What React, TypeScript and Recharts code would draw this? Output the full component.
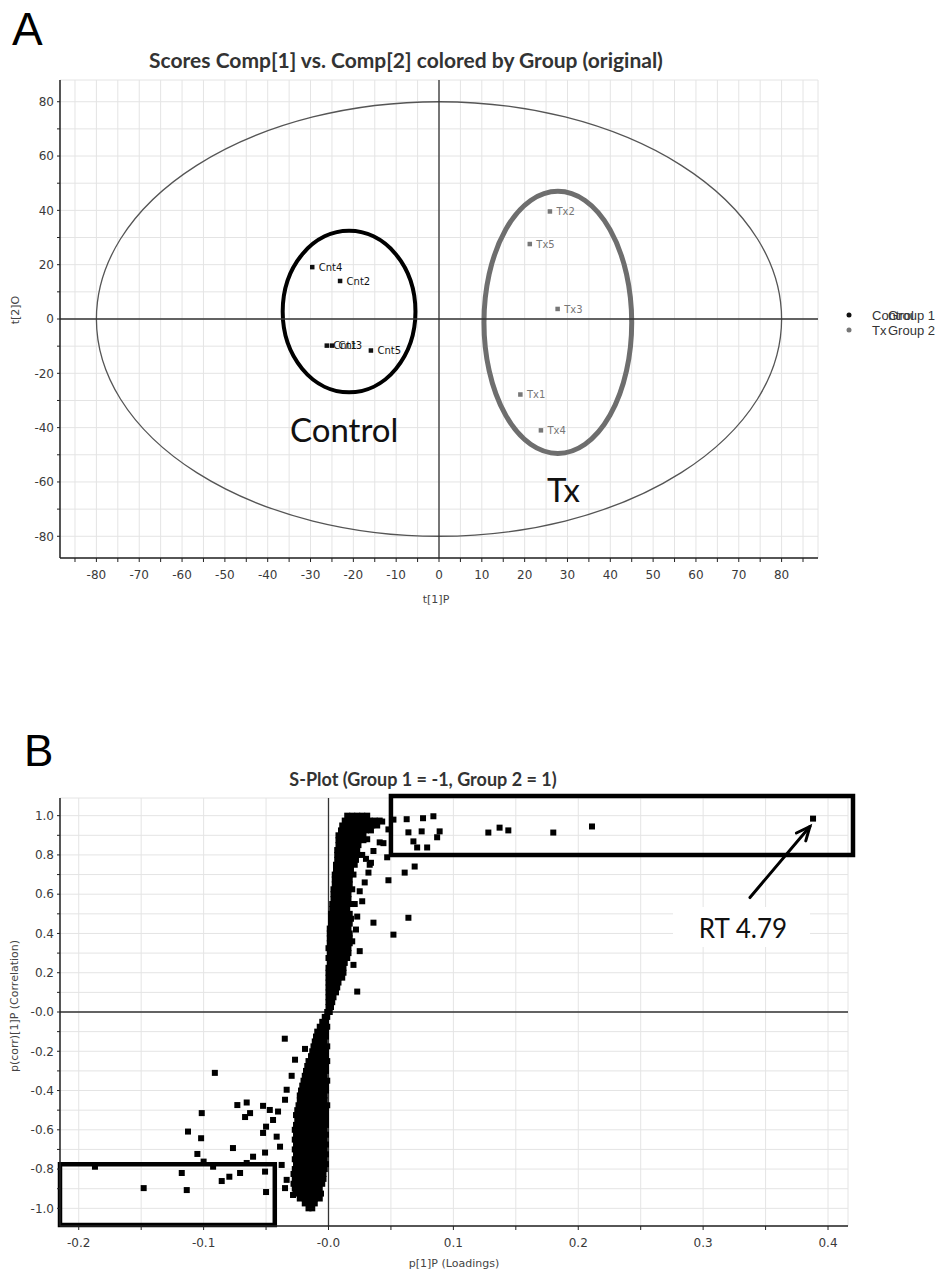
import React from 'react'
import {
    ScatterChart,
    Scatter,
    XAxis,
    YAxis,
    CartesianGrid,
    ReferenceLine,
    ReferenceArea,
    LabelList,
} from 'recharts'

// ---- Panel A: PCA scores ----
const controlNames = ['Cnt1', 'Cnt2', 'Cnt3', 'Cnt4', 'Cnt5']
const controlT1 = [-26.2, -23.1, -25.0, -29.6, -15.9]
const controlT2 = [-9.8, 14.0, -9.8, 19.1, -11.6]

const txNames = ['Tx1', 'Tx2', 'Tx3', 'Tx4', 'Tx5']
const txT1 = [19.0, 25.9, 27.7, 23.8, 21.2]
const txT2 = [-27.8, 39.6, 3.7, -41.0, 27.6]

const scoreXTicks = [-85, -80, -75, -70, -65, -60, -55, -50, -45, -40, -35, -30, -25, -20, -15, -10, -5, 0, 5, 10, 15, 20, 25, 30, 35, 40, 45, 50, 55, 60, 65, 70, 75, 80, 85]
const scoreYTicks = [-80, -70, -60, -50, -40, -30, -20, -10, 0, 10, 20, 30, 40, 50, 60, 70, 80]

const legendItems = [
    { name: 'Control', group: 'Group 1', color: '#111' },
    { name: 'Tx', group: 'Group 2', color: '#777' },
]

// ---- Panel B: S-plot ----
const loadTicks = [-0.2, -0.15, -0.1, -0.05, 0, 0.05, 0.1, 0.15, 0.2, 0.25, 0.3, 0.35, 0.4]
const corrTicks = [-1, -0.9, -0.8, -0.7, -0.6, -0.5, -0.4, -0.3, -0.2, -0.1, 0, 0.1, 0.2, 0.3, 0.4, 0.5, 0.6, 0.7, 0.8, 0.9, 1]

// dense S-band, one row per correlation level: [p(corr), loadings...]
const bandRows: [number, number[]][] = [
    [-1.0, [-0.016, -0.013]],
    [-0.975, [-0.019, -0.015, -0.011]],
    [-0.95, [-0.023, -0.019, -0.015, -0.011, -0.007]],
    [-0.925, [-0.026, -0.022, -0.018, -0.014, -0.01, -0.006]],
    [-0.9, [-0.027, -0.023, -0.019, -0.015, -0.011, -0.007]],
    [-0.875, [-0.028, -0.024, -0.02, -0.016, -0.012, -0.008, -0.005]],
    [-0.85, [-0.027, -0.023, -0.019, -0.015, -0.011, -0.007, -0.004]],
    [-0.825, [-0.028, -0.024, -0.02, -0.016, -0.012, -0.008, -0.004]],
    [-0.8, [-0.027, -0.023, -0.019, -0.015, -0.011, -0.007, -0.003]],
    [-0.775, [-0.026, -0.022, -0.018, -0.014, -0.01, -0.006, -0.002]],
    [-0.75, [-0.027, -0.023, -0.019, -0.015, -0.011, -0.007, -0.003]],
    [-0.725, [-0.026, -0.022, -0.018, -0.014, -0.01, -0.006, -0.002]],
    [-0.7, [-0.027, -0.023, -0.019, -0.015, -0.011, -0.007, -0.003]],
    [-0.675, [-0.026, -0.022, -0.018, -0.014, -0.01, -0.006, -0.002]],
    [-0.65, [-0.027, -0.023, -0.019, -0.015, -0.011, -0.007, -0.003]],
    [-0.625, [-0.026, -0.022, -0.018, -0.014, -0.01, -0.006, -0.002]],
    [-0.6, [-0.027, -0.023, -0.019, -0.015, -0.011, -0.007, -0.003]],
    [-0.575, [-0.026, -0.022, -0.018, -0.014, -0.01, -0.006, -0.002]],
    [-0.55, [-0.025, -0.021, -0.017, -0.013, -0.009, -0.005, -0.002]],
    [-0.525, [-0.026, -0.022, -0.018, -0.014, -0.01, -0.006, -0.002]],
    [-0.5, [-0.025, -0.021, -0.017, -0.013, -0.009, -0.005, -0.002]],
    [-0.475, [-0.024, -0.02, -0.016, -0.012, -0.008, -0.004, -0.001]],
    [-0.45, [-0.023, -0.019, -0.015, -0.011, -0.007, -0.003]],
    [-0.425, [-0.023, -0.019, -0.015, -0.011, -0.007, -0.003]],
    [-0.4, [-0.022, -0.018, -0.014, -0.01, -0.006, -0.002]],
    [-0.375, [-0.021, -0.017, -0.013, -0.009, -0.005, -0.002]],
    [-0.35, [-0.02, -0.016, -0.012, -0.008, -0.004, -0.001]],
    [-0.325, [-0.019, -0.015, -0.011, -0.007, -0.003]],
    [-0.3, [-0.018, -0.014, -0.01, -0.006, -0.002]],
    [-0.275, [-0.017, -0.013, -0.009, -0.005, -0.002]],
    [-0.25, [-0.016, -0.012, -0.008, -0.004, -0.001]],
    [-0.225, [-0.014, -0.01, -0.006, -0.002]],
    [-0.2, [-0.013, -0.009, -0.005, -0.002]],
    [-0.175, [-0.012, -0.008, -0.004, -0.001]],
    [-0.15, [-0.011, -0.007, -0.003]],
    [-0.125, [-0.01, -0.006, -0.002]],
    [-0.1, [-0.009, -0.005, -0.002]],
    [-0.075, [-0.007, -0.004, -0.001]],
    [-0.05, [-0.005, -0.002]],
    [-0.025, [-0.003, -0.001]],
    [0.0, [-0.001, 0.001]],
    [0.025, [0.0, 0.002]],
    [0.05, [0.0, 0.003]],
    [0.075, [0.0, 0.004]],
    [0.1, [0.0, 0.003, 0.006]],
    [0.125, [0.0, 0.004, 0.007]],
    [0.15, [0.0, 0.004, 0.008]],
    [0.175, [0.0, 0.004, 0.008, 0.011]],
    [0.2, [0.0, 0.004, 0.008, 0.012]],
    [0.225, [0.0, 0.004, 0.008, 0.012]],
    [0.25, [0.001, 0.005, 0.009, 0.013]],
    [0.275, [0.0, 0.004, 0.008, 0.012, 0.015]],
    [0.3, [0.001, 0.005, 0.009, 0.013, 0.016]],
    [0.325, [0.0, 0.004, 0.008, 0.012, 0.016]],
    [0.35, [0.001, 0.005, 0.009, 0.013, 0.017]],
    [0.375, [0.001, 0.005, 0.009, 0.013, 0.017]],
    [0.4, [0.001, 0.005, 0.009, 0.013, 0.017]],
    [0.425, [0.001, 0.005, 0.009, 0.013, 0.016]],
    [0.45, [0.002, 0.006, 0.01, 0.014, 0.017]],
    [0.475, [0.002, 0.006, 0.01, 0.014, 0.018]],
    [0.5, [0.002, 0.006, 0.01, 0.014, 0.017]],
    [0.525, [0.003, 0.007, 0.011, 0.015]],
    [0.55, [0.003, 0.007, 0.011, 0.015, 0.018]],
    [0.575, [0.004, 0.008, 0.012, 0.016]],
    [0.6, [0.004, 0.008, 0.012, 0.016]],
    [0.625, [0.004, 0.008, 0.012, 0.016, 0.019]],
    [0.65, [0.005, 0.009, 0.013, 0.017]],
    [0.675, [0.005, 0.009, 0.013, 0.017]],
    [0.7, [0.005, 0.009, 0.013, 0.017, 0.02]],
    [0.725, [0.006, 0.01, 0.014, 0.018]],
    [0.75, [0.006, 0.01, 0.014, 0.018, 0.021]],
    [0.775, [0.007, 0.011, 0.015, 0.019, 0.022]],
    [0.8, [0.007, 0.011, 0.015, 0.019, 0.023]],
    [0.825, [0.007, 0.011, 0.015, 0.019, 0.023]],
    [0.85, [0.008, 0.012, 0.016, 0.02, 0.024]],
    [0.875, [0.008, 0.012, 0.016, 0.02, 0.024, 0.028]],
    [0.9, [0.008, 0.012, 0.016, 0.02, 0.024, 0.028]],
    [0.925, [0.01, 0.014, 0.018, 0.022, 0.026, 0.03, 0.034]],
    [0.95, [0.011, 0.015, 0.019, 0.023, 0.027, 0.031, 0.035, 0.039]],
    [0.975, [0.013, 0.017, 0.021, 0.025, 0.029, 0.033, 0.037, 0.041]],
    [1.0, [0.015, 0.019, 0.023, 0.027, 0.031]],
]

// scattered variables off the band: [loading, p(corr)]
const positiveTail: [number, number][] = [
    [0.0626, 0.982], [0.0757, 0.987], [0.084, 0.997], [0.064, 0.915], [0.0746, 0.92],
    [0.089, 0.92], [0.068, 0.869], [0.079, 0.838], [0.087, 0.89], [0.071, 0.838],
    [0.069, 0.741], [0.061, 0.71], [0.064, 0.48], [0.052, 0.394], [0.048, 0.671],
    [0.036, 0.455], [0.023, 0.104], [0.032, 0.71], [0.033, 0.75], [0.027, 0.564],
    [0.025, 0.615], [0.025, 0.31], [0.023, 0.486], [0.047, 0.788], [0.052, 0.98],
    [0.041, 0.864], [0.031, 0.88], [0.036, 0.82], [0.044, 0.86], [0.048, 0.93],
    [0.043, 0.97], [0.034, 0.76], [0.029, 0.66], [0.021, 0.55], [0.022, 0.42],
    [0.019, 0.36], [0.02, 0.24], [0.03, 0.78], [0.027, 0.8],
    [0.128, 0.914], [0.137, 0.939], [0.144, 0.925], [0.18, 0.914], [0.211, 0.945],
    [0.388, 0.985],
]

const negativeTail: [number, number][] = [
    [-0.035, -0.136], [-0.091, -0.31], [-0.1015, -0.515], [-0.073, -0.474], [-0.0655, -0.461],
    [-0.0628, -0.515], [-0.0668, -0.535], [-0.1125, -0.609], [-0.102, -0.643], [-0.105, -0.723],
    [-0.0765, -0.693], [-0.1, -0.762], [-0.1175, -0.82], [-0.148, -0.897], [-0.1135, -0.907],
    [-0.0855, -0.861], [-0.0794, -0.839], [-0.0708, -0.82], [-0.0508, -0.813], [-0.05, -0.917],
    [-0.187, -0.788], [-0.0508, -0.716], [-0.0524, -0.478], [-0.047, -0.499], [-0.05, -0.584],
    [-0.0524, -0.616], [-0.0604, -0.737], [-0.0655, -0.769], [-0.0924, -0.788], [-0.0268, -0.243],
    [-0.0188, -0.188], [-0.0295, -0.325], [-0.0404, -0.507], [-0.0444, -0.55], [-0.0415, -0.635],
    [-0.0388, -0.686], [-0.0375, -0.779], [-0.0335, -0.855], [-0.0348, -0.897], [-0.0284, -0.932],
    [-0.0335, -0.396], [-0.0348, -0.447],
]

const controlData = controlNames.map((name, i) => ({ name, x: controlT1[i], y: controlT2[i] }))
const txData = txNames.map((name, i) => ({ name, x: txT1[i], y: txT2[i] }))

const sPlotData = [
    ...bandRows.flatMap(([y, xs]) => xs.map((x) => ({ x, y }))),
    ...positiveTail.map(([x, y]) => ({ x, y })),
    ...negativeTail.map(([x, y]) => ({ x, y })),
]

const tickStyle = { fontSize: 12, fill: '#3a3a3a', fontFamily: 'DejaVu Sans' }
const axisLine = { stroke: '#222', strokeWidth: 1.5 }
const gridColor = '#e4e4e4'

const fmtScoreX = (v: number) => (v % 10 === 0 ? String(v) : '')
const fmtScoreY = (v: number) => (v % 20 === 0 ? String(v) : '')
const fmtLoad = (v: number) => {
    const r = Math.round(v * 100)
    if (r % 10 !== 0) return ''
    return r === 0 ? '-0.0' : (r / 100).toFixed(1)
}
const fmtCorr = (v: number) => {
    const r = Math.round(v * 10)
    if (r % 2 !== 0) return ''
    return r === 0 ? '-0.0' : (r / 10).toFixed(1)
}

// small square marker of fixed pixel size
const squareMarker = (side: number, fill: string) => (props: any) => (
    <rect x={props.cx - side / 2} y={props.cy - side / 2} width={side} height={side} fill={fill} />
)

// ellipse inscribed in a ReferenceArea rectangle
const ellipseShape = (stroke: string, strokeWidth: number) => (props: any) => {
    const { x, y, width, height } = props
    return (
        <ellipse
            cx={x + width / 2}
            cy={y + height / 2}
            rx={Math.abs(width) / 2}
            ry={Math.abs(height) / 2}
            fill="none"
            stroke={stroke}
            strokeWidth={strokeWidth}
        />
    )
}

const arrowShape = (props: any) => {
    const { x1, y1, x2, y2 } = props
    const a = Math.atan2(y2 - y1, x2 - x1)
    const len = 15
    const spread = 0.42
    const h1 = `${x2 - len * Math.cos(a - spread)},${y2 - len * Math.sin(a - spread)}`
    const h2 = `${x2 - len * Math.cos(a + spread)},${y2 - len * Math.sin(a + spread)}`
    return (
        <g stroke="#000" strokeWidth={3} fill="none" strokeLinecap="round">
            <line x1={x1} y1={y1} x2={x2} y2={y2} />
            <polyline points={`${h1} ${x2},${y2} ${h2}`} />
        </g>
    )
}

const ScoresChart = () => (
    <ScatterChart width={950} height={620} margin={{ top: 80, right: 132, bottom: 32, left: 20 }}>
        <CartesianGrid stroke={gridColor} />
        <XAxis
            type="number"
            dataKey="x"
            domain={[-88.5, 88.5]}
            ticks={scoreXTicks}
            interval={0}
            tickFormatter={fmtScoreX}
            tick={tickStyle}
            tickSize={4}
            tickMargin={8}
            axisLine={axisLine}
            tickLine={{ stroke: '#222' }}
            height={30}
            allowDataOverflow
        />
        <YAxis
            type="number"
            dataKey="y"
            domain={[-88, 88]}
            ticks={scoreYTicks}
            interval={0}
            tickFormatter={fmtScoreY}
            tick={tickStyle}
            tickSize={3}
            tickMargin={3}
            axisLine={axisLine}
            tickLine={{ stroke: '#222' }}
            width={40}
            allowDataOverflow
        />
        <ReferenceLine x={0} stroke="#333" strokeWidth={1.3} />
        <ReferenceLine y={0} stroke="#333" strokeWidth={1.3} />
        <ReferenceArea x1={-80} x2={80} y1={-80} y2={80} ifOverflow="visible" shape={ellipseShape('#555', 1.3)} />
        <ReferenceArea x1={-36.5} x2={-5.5} y1={-27} y2={32.5} ifOverflow="visible" shape={ellipseShape('#000', 4)} />
        <ReferenceArea x1={10.5} x2={45} y1={-49.5} y2={47} ifOverflow="visible" shape={ellipseShape('#6e6e6e', 5)} />
        <Scatter name="Control" data={controlData} fill="#111" shape={squareMarker(4.5, '#111')} isAnimationActive={false}>
            <LabelList dataKey="name" position="right" offset={2} style={{ fontSize: 10, fill: '#111', fontFamily: 'DejaVu Sans' }} />
        </Scatter>
        <Scatter name="Tx" data={txData} fill="#777" shape={squareMarker(4.5, '#777')} isAnimationActive={false}>
            <LabelList dataKey="name" position="right" offset={2} style={{ fontSize: 10, fill: '#777', fontFamily: 'DejaVu Sans' }} />
        </Scatter>
    </ScatterChart>
)

const SPlotChart = () => (
    <ScatterChart width={950} height={552} margin={{ top: 78, right: 102, bottom: 16, left: 20 }}>
        <CartesianGrid stroke={gridColor} />
        <XAxis
            type="number"
            dataKey="x"
            domain={[-0.215, 0.416]}
            ticks={loadTicks}
            interval={0}
            tickFormatter={fmtLoad}
            tick={tickStyle}
            tickSize={4}
            tickMargin={8}
            axisLine={axisLine}
            tickLine={{ stroke: '#222' }}
            height={30}
            allowDataOverflow
        />
        <YAxis
            type="number"
            dataKey="y"
            domain={[-1.09, 1.09]}
            ticks={corrTicks}
            interval={0}
            tickFormatter={fmtCorr}
            tick={tickStyle}
            tickSize={3}
            tickMargin={3}
            axisLine={axisLine}
            tickLine={{ stroke: '#222' }}
            width={40}
            allowDataOverflow
        />
        <ReferenceLine x={0} stroke="#333" strokeWidth={1.3} />
        <ReferenceLine y={0} stroke="#333" strokeWidth={1.3} />
        <Scatter data={sPlotData} fill="#000" shape={squareMarker(6, '#000')} isAnimationActive={false} />
        <ReferenceArea x1={0.05} x2={0.42} y1={0.8} y2={1.1} ifOverflow="visible" fill="none" stroke="#000" strokeWidth={4.5} fillOpacity={0} />
        <ReferenceArea x1={-0.215} x2={-0.043} y1={-1.085} y2={-0.775} ifOverflow="visible" fill="none" stroke="#000" strokeWidth={4.5} fillOpacity={0} />
        <ReferenceLine segment={[{ x: 0.3375, y: 0.583 }, { x: 0.3855, y: 0.945 }]} ifOverflow="visible" shape={arrowShape} />
    </ScatterChart>
)

const App = () => {
    const label = { fontFamily: 'DejaVu Sans', fontSize: 11, fill: '#444' }
    const titleFont = { fontFamily: 'Lato', fontWeight: 700, fill: '#333' }
    return (
        <div style={{ position: 'absolute', left: 0, top: 0, width: 950, height: 1272, background: '#fff' }}>
            <div style={{ position: 'absolute', left: 0, top: 0 }}>
                <ScoresChart />
            </div>
            <div style={{ position: 'absolute', left: 0, top: 720 }}>
                <SPlotChart />
            </div>
            <svg width={950} height={1272} style={{ position: 'absolute', left: 0, top: 0, pointerEvents: 'none' }}>
                <text x={12} y={45} fontFamily="Liberation Sans, Arial" fontSize={46}>A</text>
                <text x={406} y={68} textAnchor="middle" fontSize={21} {...titleFont}>Scores Comp[1] vs. Comp[2] colored by Group (original)</text>
                <text x={436} y={603} textAnchor="middle" {...label}>t[1]P</text>
                <text x={19} y={310} textAnchor="middle" transform="rotate(-90 19 310)" {...label}>t[2]O</text>
                <text x={290} y={442} fontFamily="Lato" fontSize={33} fill="#111">Control</text>
                <text x={547} y={502} fontFamily="Lato" fontSize={33} fill="#111">Tx</text>

                {/* group legend: the class name and the group label share a slot */}
                {legendItems.map((item, i) => (
                    <g key={item.name} fontFamily="Liberation Sans, Arial" fontSize={13} fill="#333">
                        <circle cx={849} cy={315 + i * 15} r={2.5} fill={item.color} />
                        <text x={872} y={320 + i * 15}>{item.name}</text>
                        <text x={888} y={320 + i * 15}>{item.group}</text>
                    </g>
                ))}

                <text x={24} y={766} fontFamily="Liberation Sans, Arial" fontSize={44}>B</text>
                <text x={423} y={786} textAnchor="middle" fontSize={18} {...titleFont}>S-Plot (Group 1 = -1, Group 2 = 1)</text>
                <text x={454} y={1267} textAnchor="middle" {...label}>p[1]P (Loadings)</text>
                <text x={18} y={1006} textAnchor="middle" transform="rotate(-90 18 1006)" {...label}>p(corr)[1]P (Correlation)</text>
                <rect x={673} y={907} width={137} height={40} fill="#fff" />
                <text x={743} y={938} textAnchor="middle" fontFamily="Lato" fontSize={26} fill="#111">RT 4.79</text>
            </svg>
        </div>
    )
}

export default App
